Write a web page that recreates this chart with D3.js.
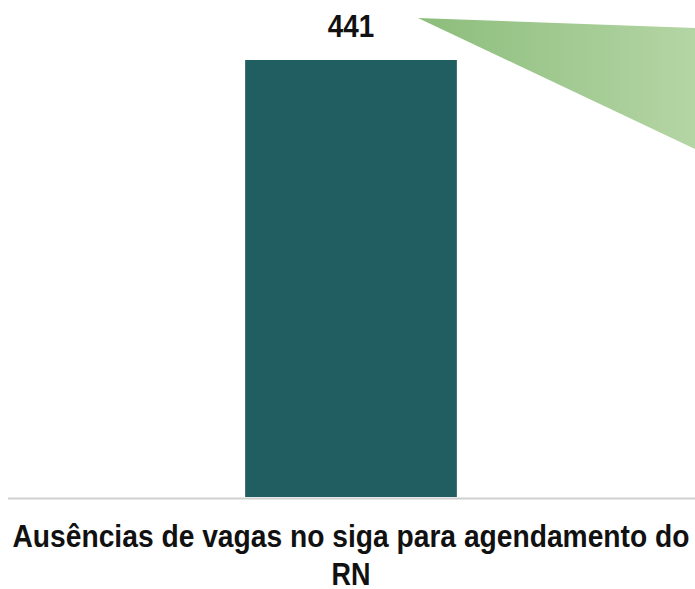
<!DOCTYPE html>
<html>
<head>
<meta charset="utf-8">
<script src="https://cdn.jsdelivr.net/npm/d3@7"></script>
<style>
  html, body { margin: 0; padding: 0; background: #ffffff; }
  svg { display: block; }
  text { font-family: "Liberation Sans", Arial, sans-serif; font-weight: bold; fill: #111; }
</style>
</head>
<body>
<script>
const categories = ["Ausências de vagas no siga para agendamento do RN"];
const categoryLines = [["Ausências de vagas no siga para agendamento do", "RN"]];
const values = [441];

const W = 695, H = 589;
const svg = d3.select("body").append("svg").attr("width", W).attr("height", H);

// gradient for the callout wedge
const defs = svg.append("defs");
const grad = defs.append("linearGradient").attr("id", "wedge").attr("x1", "0%").attr("x2", "100%").attr("y1", "0%").attr("y2", "0%");
grad.append("stop").attr("offset", "0%").attr("stop-color", "#8cbd7c");
grad.append("stop").attr("offset", "100%").attr("stop-color", "#b4d5a4");

svg.append("path")
  .attr("d", "M418,18 L695,28 L695,149 Z")
  .attr("fill", "url(#wedge)");

const x = d3.scaleBand().domain(categories).range([4, 698]).paddingInner(0).paddingOuter(1.139);
const y = d3.scaleLinear().domain([0, 441]).range([497, 60]);

// baseline axis
svg.append("line")
  .attr("x1", 8).attr("x2", W)
  .attr("y1", 498.5).attr("y2", 498.5)
  .attr("stroke", "#d0d0d0").attr("stroke-width", 2);

svg.selectAll("rect.bar").data(values).join("rect")
  .attr("class", "bar")
  .attr("x", (d, i) => x(categories[i]))
  .attr("width", x.bandwidth())
  .attr("y", d => y(d))
  .attr("height", d => y(0) - y(d))
  .attr("fill", "#215e62");

// condensed label text: natural width squeezed horizontally
const condense = (sel, factor) => sel.each(function () {
  const len = this.getComputedTextLength();
  d3.select(this).attr("textLength", len * factor).attr("lengthAdjust", "spacingAndGlyphs");
});

svg.selectAll("text.val").data(values).join("text")
  .attr("class", "val")
  .attr("x", (d, i) => x(categories[i]) + x.bandwidth() / 2)
  .attr("y", d => y(d) - 23)
  .attr("text-anchor", "middle")
  .attr("font-size", 32)
  .text(d => d)
  .call(condense, 0.87);

categoryLines.forEach((lines, i) => {
  const cx = x(categories[i]) + x.bandwidth() / 2;
  lines.forEach((ln, j) => {
    const t = svg.append("text")
      .attr("x", cx)
      .attr("y", 547 + j * 38)
      .attr("text-anchor", "middle")
      .attr("font-size", 31)
      .text(ln);
    if (j === 0) t.attr("textLength", 677).attr("lengthAdjust", "spacingAndGlyphs");
    else t.call(condense, 0.87);
  });
});
</script>
</body>
</html>
